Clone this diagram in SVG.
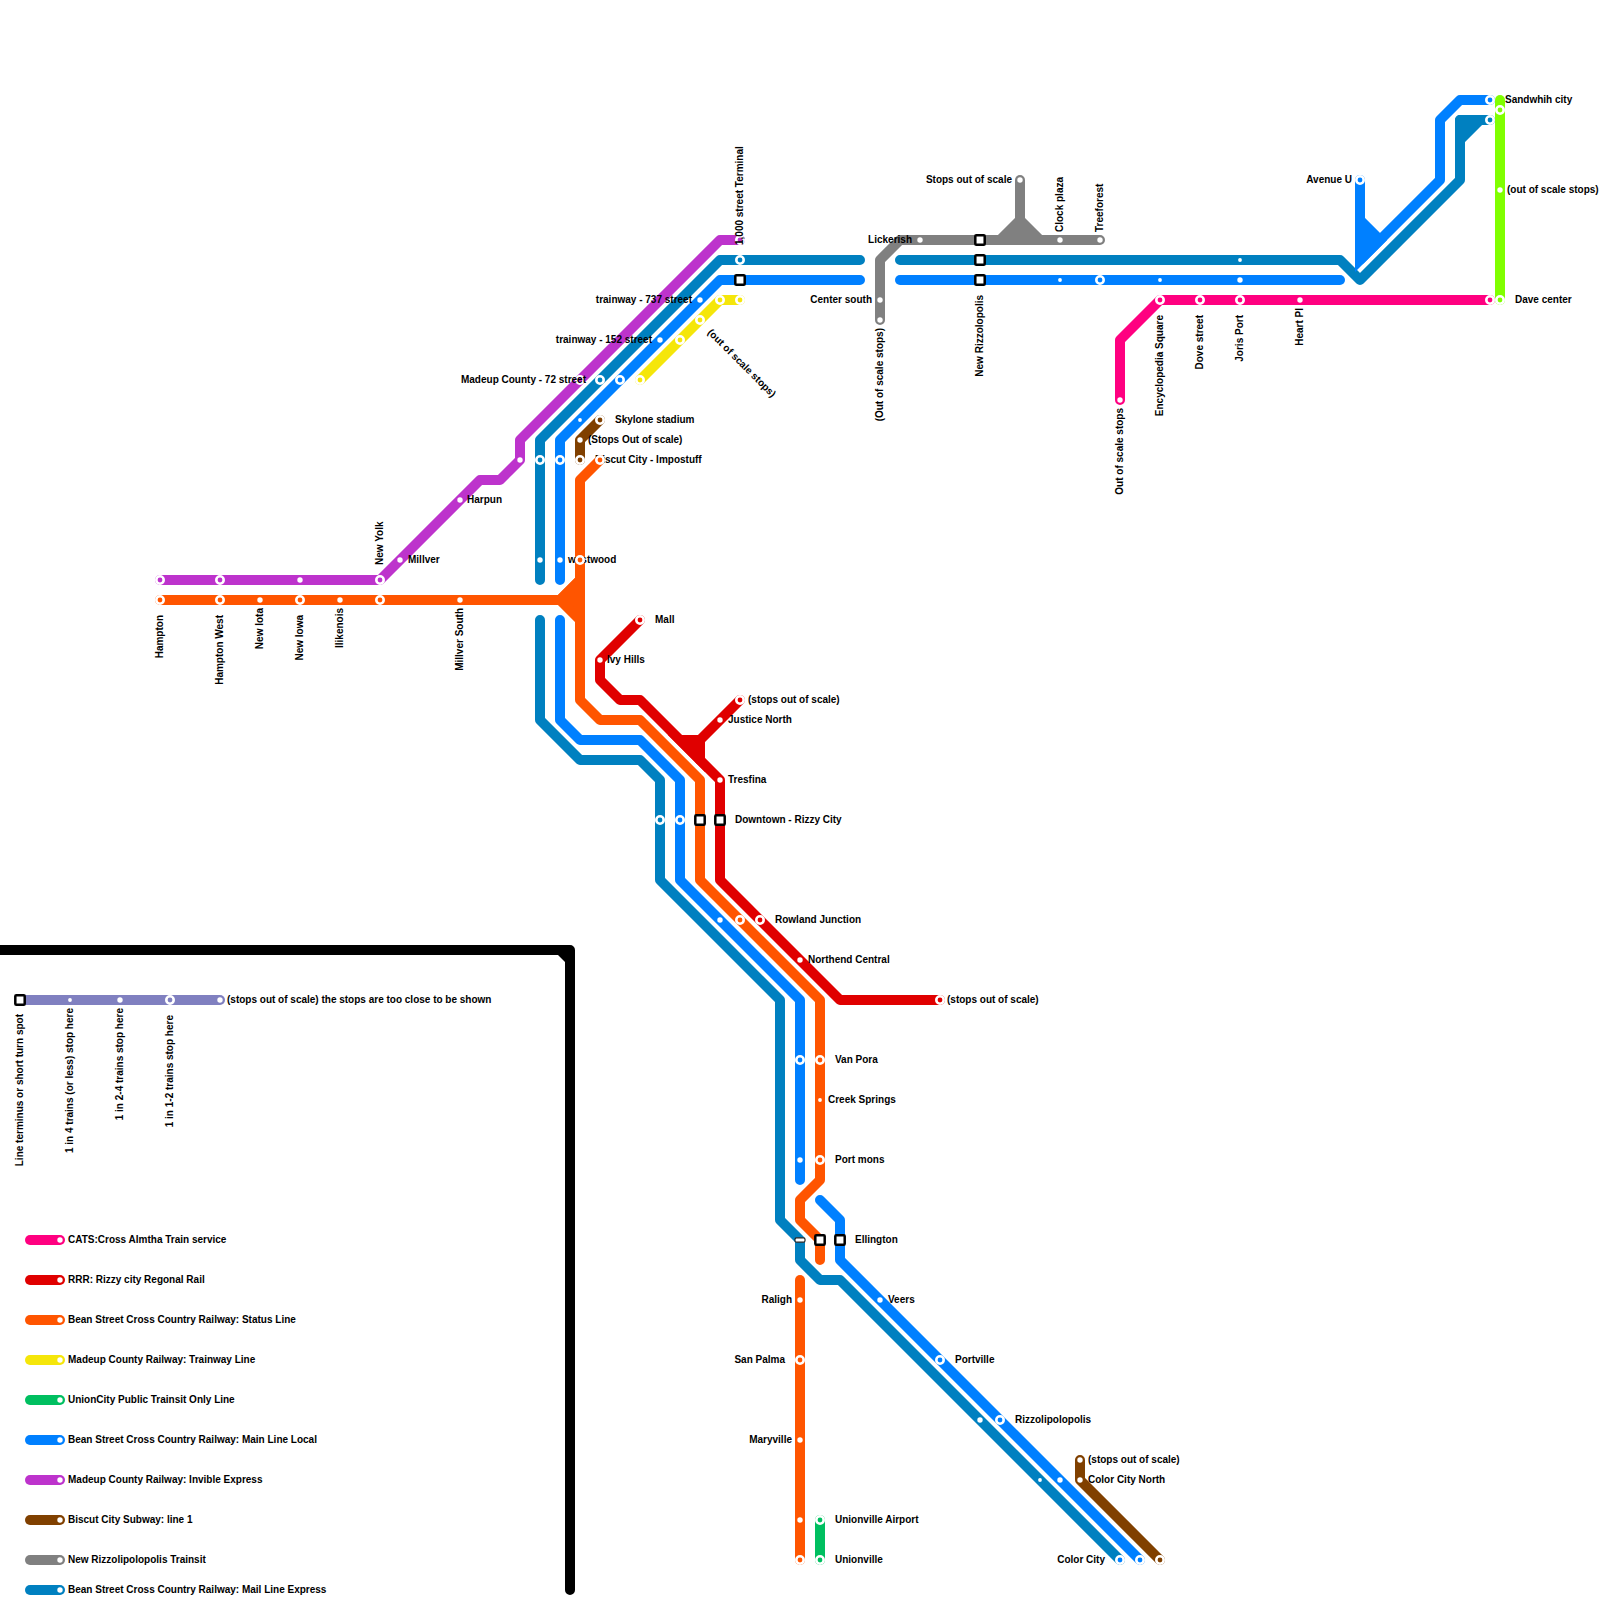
<svg xmlns="http://www.w3.org/2000/svg" width="1600" height="1600" viewBox="0 0 1600 1600">
<style>
.l{fill:none;stroke-width:10;stroke-linecap:round;stroke-linejoin:round}
.t{font-family:"Liberation Sans",Arial,sans-serif;font-size:10px;font-weight:bold;fill:#000}
.e{text-anchor:end}
.pk{stroke:#ff0080}.rd{stroke:#e00000}.or{stroke:#ff5500}.ye{stroke:#f5e60a}.gn{stroke:#00bf60}.bl{stroke:#0080ff}.pu{stroke:#bd33cc}.br{stroke:#804000}.gy{stroke:#808080}.db{stroke:#0080c0}.lm{stroke:#80ff00}.lv{stroke:#8080c0}.bk{stroke:#000}
.d{fill:#fff}
.sq{fill:#fff;stroke:#000;stroke-width:2.5}
.r{stroke:#fff;stroke-width:2.6}
</style>
<defs>
<circle id="dot" r="2.7" class="d"/>
<circle id="sd" r="1.9" class="d"/>
<rect id="sqr" x="-4.7" y="-4.7" width="9.4" height="9.4" rx="1" class="sq"/>
</defs>
<g id="connectors">
<path class="l bk" d="M-10 950H570V1590"/><path d="M553 950L570 967V950Z" fill="#000"/>
<path class="l lv" d="M20 1000H220"/>
<path class="l pu" d="M160 580H380L480 480H500L520 460V440L720 240H740"/>
<path class="l db" d="M860 260H720L540 440V580"/>
<path class="l db" d="M540 620V720L580 760H640L660 780V880L780 1000V1220L800 1240V1260L820 1280H840L1120 1560"/>
<path class="l db" d="M900 260H1340L1360 280L1460 180V120H1490"/>
<path class="l db" style="fill:#0080c0" d="M1460 120H1480L1460 140Z"/>
<path class="l bl" d="M860 280H720L560 440V580"/>
<path class="l bl" d="M560 620V720L580 740H640L680 780V880L800 1000V1180"/>
<path class="l bl" d="M820 1200L840 1220V1260L1140 1560"/>
<path class="l bl" d="M900 280H1340"/>
<path class="l bl" d="M1360 180V260L1440 180V120L1460 100H1490"/>
<path class="l bl" style="fill:#0080ff;stroke-linejoin:miter" d="M1360 220L1380 240L1360 260Z"/>
<path class="l or" d="M160 600H560L580 580"/>
<path class="l or" style="fill:#ff5500;stroke-linejoin:miter;stroke-linecap:butt" d="M560 600L580 580V620Z"/>
<path class="l or" d="M600 460L580 480V700L600 720H640L700 780V880L820 1000V1180L800 1200V1220L820 1240V1260"/>
<path class="l or" d="M800 1280V1560"/>
<path class="l rd" d="M640 620L600 660V680L620 700H640L720 780V880L840 1000H940"/>
<path class="l rd" d="M740 700L700 740V760"/>
<path class="l rd" style="fill:#e00000;stroke-linejoin:miter;stroke-linecap:butt" d="M680 740H700V760Z"/>
<path class="l ye" d="M640 380L720 300H740"/>
<path class="l br" d="M600 420L580 440V460"/>
<path class="l br" d="M1080 1460V1480L1160 1560"/>
<path class="l gy" d="M880 320V260L900 240H1100"/>
<path class="l gy" d="M1020 180V220"/>
<path class="l gy" style="fill:#808080;stroke-linejoin:miter;stroke-linecap:butt" d="M1000 240L1020 220L1040 240Z"/>
<path class="l pk" d="M1120 400V340L1160 300H1490"/>
<path class="l lm" d="M1500 100V300"/>
<path class="l gn" d="M820 1520V1560"/>
<path class="l pk" d="M30 1240H60"/><path class="l rd" d="M30 1280H60"/><path class="l or" d="M30 1320H60"/><path class="l ye" d="M30 1360H60"/><path class="l gn" d="M30 1400H60"/><path class="l bl" d="M30 1440H60"/><path class="l pu" d="M30 1480H60"/><path class="l br" d="M30 1520H60"/><path class="l gy" d="M30 1560H60"/><path class="l db" d="M30 1590H60"/>
</g>
<g id="stops-purple" fill="#bd33cc">
<circle class="r" cx="160" cy="580" r="3.7"/><circle class="r" cx="220" cy="580" r="3.7"/><use href="#dot" x="300" y="580"/><circle class="r" cx="380" cy="580" r="3.7"/><use href="#dot" x="400" y="560"/><use href="#dot" x="460" y="500"/><use href="#dot" x="520" y="460"/><circle class="r" cx="580" cy="380" r="3.7"/><circle class="r" cx="740" cy="240" r="3.7"/>
</g>
<g id="labels">
<text class="t" x="615" y="422.5">Skylone stadium</text>
<text class="t" x="588" y="442.5">(Stops Out of scale)</text>
<text class="t" x="595" y="462.5">Biscut City - Impostuff</text>
<text class="t" x="568" y="562.5">westwood</text>
<text class="t e" x="586" y="382.5">Madeup County - 72 street</text>
<text class="t e" x="652" y="342.5">trainway - 152 street</text>
<text class="t e" x="692" y="302.5">trainway - 737 street</text>
<text class="t e" x="872" y="302.5">Center south</text>
<text class="t e" x="912" y="242.5">Lickerish</text>
<text class="t e" x="1012" y="182.5">Stops out of scale</text>
<text class="t e" x="1352" y="182.5">Avenue U</text>
<text class="t" x="1505" y="102.5">Sandwhih city</text>
<text class="t" x="1507" y="192.5">(out of scale stops)</text>
<text class="t" x="1515" y="302.5">Dave center</text>
<text class="t" x="655" y="622.5">Mall</text>
<text class="t" x="607" y="662.5">Ivy Hills</text>
<text class="t" x="748" y="702.5">(stops out of scale)</text>
<text class="t" x="728" y="722.5">Justice North</text>
<text class="t" x="728" y="782.5">Tresfina</text>
<text class="t" x="735" y="822.5">Downtown - Rizzy City</text>
<text class="t" x="775" y="922.5">Rowland Junction</text>
<text class="t" x="808" y="962.5">Northend Central</text>
<text class="t" x="947" y="1002.5">(stops out of scale)</text>
<text class="t" x="835" y="1062.5">Van Pora</text>
<text class="t" x="828" y="1102.5">Creek Springs</text>
<text class="t" x="835" y="1162.5">Port mons</text>
<text class="t" x="855" y="1242.5">Ellington</text>
<text class="t" x="888" y="1302.5">Veers</text>
<text class="t e" x="792" y="1302.5">Raligh</text>
<text class="t e" x="785" y="1362.5">San Palma</text>
<text class="t e" x="792" y="1442.5">Maryville</text>
<text class="t" x="835" y="1522.5">Unionville Airport</text>
<text class="t" x="835" y="1562.5">Unionville</text>
<text class="t" x="955" y="1362.5">Portville</text>
<text class="t" x="1015" y="1422.5">Rizzolipolopolis</text>
<text class="t" x="1088" y="1462.5">(stops out of scale)</text>
<text class="t" x="1088" y="1482.5">Color City North</text>
<text class="t e" x="1105" y="1562.5">Color City</text>
<text class="t" x="467" y="502.5">Harpun</text>
<text class="t" x="408" y="562.5">Millver</text>
<text class="t" x="227" y="1002.5">(stops out of scale) the stops are too close to be shown</text>
<text class="t e" transform="translate(162.5 615) rotate(-90)">Hampton</text>
<text class="t e" transform="translate(222.5 615) rotate(-90)">Hampton West</text>
<text class="t e" transform="translate(262.5 608) rotate(-90)">New Iota</text>
<text class="t e" transform="translate(302.5 615) rotate(-90)">New Iowa</text>
<text class="t e" transform="translate(342.5 608) rotate(-90)">Ilikenois</text>
<text class="t e" transform="translate(462.5 608) rotate(-90)">Millver South</text>
<text class="t" transform="translate(382.5 565) rotate(-90)">New Yolk</text>
<text class="t" transform="translate(742.5 245) rotate(-90)">1,000 street Terminal</text>
<text class="t" transform="translate(1062.5 232) rotate(-90)">Clock plaza</text>
<text class="t" transform="translate(1102.5 232) rotate(-90)">Treeforest</text>
<text class="t e" transform="translate(982.5 295) rotate(-90)">New Rizzolopolis</text>
<text class="t e" transform="translate(882.5 328) rotate(-90)">(Out of scale stops)</text>
<text class="t e" transform="translate(1122.5 408) rotate(-90)">Out of scale stops</text>
<text class="t e" transform="translate(1162.5 315) rotate(-90)">Encyclopedia Square</text>
<text class="t e" transform="translate(1202.5 315) rotate(-90)">Dove street</text>
<text class="t e" transform="translate(1242.5 315) rotate(-90)">Joris Port</text>
<text class="t e" transform="translate(1302.5 308) rotate(-90)">Heart Pl</text>
<text class="t e" transform="translate(22.5 1014) rotate(-90)">Line terminus or short turn spot</text>
<text class="t e" transform="translate(72.5 1008) rotate(-90)">1 in 4 trains (or less) stop here</text>
<text class="t e" transform="translate(122.5 1008) rotate(-90)">1 in 2-4 trains stop here</text>
<text class="t e" transform="translate(172.5 1015) rotate(-90)">1 in 1-2 trains stop here</text>
<text class="t" transform="translate(707 333) rotate(45)">(out of scale stops)</text>
<text class="t" x="68" y="1242.5">CATS:Cross Almtha Train service</text>
<text class="t" x="68" y="1282.5">RRR: Rizzy city Regonal Rail</text>
<text class="t" x="68" y="1322.5">Bean Street Cross Country Railway: Status Line</text>
<text class="t" x="68" y="1362.5">Madeup County Railway: Trainway Line</text>
<text class="t" x="68" y="1402.5">UnionCity Public Trainsit Only Line</text>
<text class="t" x="68" y="1442.5">Bean Street Cross Country Railway: Main Line Local</text>
<text class="t" x="68" y="1482.5">Madeup County Railway: Invible Express</text>
<text class="t" x="68" y="1522.5">Biscut City Subway: line 1</text>
<text class="t" x="68" y="1562.5">New Rizzolipolopolis Trainsit</text>
<text class="t" x="68" y="1592.5">Bean Street Cross Country Railway: Mail Line Express</text>
</g>
<g id="stops-orange" fill="#ff5500">
<circle class="r" cx="160" cy="600" r="3.7"/><circle class="r" cx="220" cy="600" r="3.7"/><use href="#dot" x="260" y="600"/><circle class="r" cx="300" cy="600" r="3.7"/><use href="#dot" x="340" y="600"/><circle class="r" cx="380" cy="600" r="3.7"/><use href="#dot" x="460" y="600"/><circle class="r" cx="580" cy="560" r="3.7"/><circle class="r" cx="600" cy="460" r="3.7"/><circle class="r" cx="740" cy="920" r="3.7"/><circle class="r" cx="820" cy="1060" r="3.7"/><use href="#sd" x="820" y="1100"/><circle class="r" cx="820" cy="1160" r="3.7"/><use href="#dot" x="800" y="1300"/><circle class="r" cx="800" cy="1360" r="3.7"/><use href="#dot" x="800" y="1440"/><use href="#dot" x="800" y="1520"/><circle class="r" cx="800" cy="1560" r="3.7"/>
<use href="#sqr" x="700" y="820"/><use href="#sqr" x="820" y="1240"/>
</g>
<g id="stops-red" fill="#e00000">
<circle class="r" cx="640" cy="620" r="3.7"/><use href="#dot" x="600" y="660"/><circle class="r" cx="740" cy="700" r="3.7"/><use href="#dot" x="720" y="720"/><use href="#dot" x="720" y="780"/><use href="#sqr" x="720" y="820"/><circle class="r" cx="760" cy="920" r="3.7"/><use href="#dot" x="800" y="960"/><circle class="r" cx="940" cy="1000" r="3.7"/>
</g>
<g id="stops-dark-blue" fill="#0080c0">
<circle class="r" cx="740" cy="260" r="3.7"/><circle class="r" cx="540" cy="460" r="3.7"/><use href="#dot" x="540" y="560"/><circle class="r" cx="600" cy="380" r="3.7"/><circle class="r" cx="660" cy="820" r="3.7"/><use href="#sqr" x="980" y="260"/><rect x="795" y="1237.8" width="10" height="4.4" rx="1.5" fill="#fff" stroke="#222" stroke-width="1.2"/><use href="#dot" x="980" y="1420"/><use href="#sd" x="1040" y="1480"/><circle class="r" cx="1120" cy="1560" r="3.7" fill="#0080ff"/><use href="#sd" x="1240" y="260"/><circle class="r" cx="1490" cy="120" r="3.7"/>
</g>
<g id="stops-blue" fill="#0080ff">
<circle class="r" cx="560" cy="460" r="3.7"/><use href="#dot" x="560" y="560"/><circle class="r" cx="620" cy="380" r="3.7"/><use href="#sd" x="580" y="420"/><use href="#dot" x="660" y="340"/><use href="#dot" x="700" y="300"/><use href="#sqr" x="740" y="280"/><circle class="r" cx="680" cy="820" r="3.7"/><use href="#dot" x="720" y="920"/><circle class="r" cx="800" cy="1060" r="3.7"/><use href="#dot" x="800" y="1160"/><use href="#sqr" x="840" y="1240"/><use href="#dot" x="880" y="1300"/><circle class="r" cx="940" cy="1360" r="3.7"/><circle class="r" cx="1000" cy="1420" r="3.7"/><use href="#dot" x="1060" y="1480"/><circle class="r" cx="1140" cy="1560" r="3.7"/><use href="#sqr" x="980" y="280"/><use href="#sd" x="1060" y="280"/><circle class="r" cx="1100" cy="280" r="3.7"/><use href="#sd" x="1160" y="280"/><use href="#dot" x="1240" y="280"/><circle class="r" cx="1360" cy="180" r="3.7"/><circle class="r" cx="1490" cy="100" r="3.7"/>
</g>
<g id="stops-yellow" fill="#f5e60a">
<circle class="r" cx="640" cy="380" r="3.7"/><circle class="r" cx="680" cy="340" r="3.7"/><circle class="r" cx="700" cy="320" r="3.7"/><circle class="r" cx="720" cy="300" r="3.7"/><circle class="r" cx="740" cy="300" r="3.7"/>
</g>
<g id="stops-brown" fill="#804000">
<circle class="r" cx="600" cy="420" r="3.7"/><use href="#dot" x="580" y="440"/><circle class="r" cx="580" cy="460" r="3.7"/><use href="#dot" x="1080" y="1460"/><use href="#dot" x="1080" y="1480"/><circle class="r" cx="1160" cy="1560" r="3.7"/>
</g>
<g id="stops-gray" fill="#808080">
<use href="#dot" x="920" y="240"/><use href="#sqr" x="980" y="240"/><use href="#dot" x="1060" y="240"/><use href="#dot" x="1100" y="240"/><use href="#dot" x="1020" y="180"/><use href="#dot" x="880" y="300"/><use href="#dot" x="880" y="320"/>
</g>
<g id="stops-pink" fill="#ff0080">
<use href="#dot" x="1120" y="400"/><circle class="r" cx="1160" cy="300" r="3.7"/><circle class="r" cx="1200" cy="300" r="3.7"/><circle class="r" cx="1240" cy="300" r="3.7"/><use href="#dot" x="1300" y="300"/><circle class="r" cx="1490" cy="300" r="3.7"/>
</g>
<g id="stops-lime" fill="#80ff00">
<circle class="r" cx="1500" cy="110" r="3.7"/><use href="#dot" x="1500" y="190"/><circle class="r" cx="1500" cy="300" r="3.7"/>
</g>
<g id="stops-green" fill="#00bf60">
<circle class="r" cx="820" cy="1520" r="3.7"/><circle class="r" cx="820" cy="1560" r="3.7"/>
</g>
<g id="stops-legend" fill="#8080c0">
<use href="#sqr" x="20" y="1000"/><use href="#sd" x="70" y="1000"/><use href="#dot" x="120" y="1000"/><circle class="r" cx="170" cy="1000" r="3.7"/><use href="#dot" x="220" y="1000"/>
<use href="#dot" x="60" y="1240"/><use href="#dot" x="60" y="1280"/><use href="#dot" x="60" y="1320"/><use href="#dot" x="60" y="1360"/><use href="#dot" x="60" y="1400"/><use href="#dot" x="60" y="1440"/><use href="#dot" x="60" y="1480"/><use href="#dot" x="60" y="1520"/><use href="#dot" x="60" y="1560"/><use href="#dot" x="60" y="1590"/>
</g>
</svg>
